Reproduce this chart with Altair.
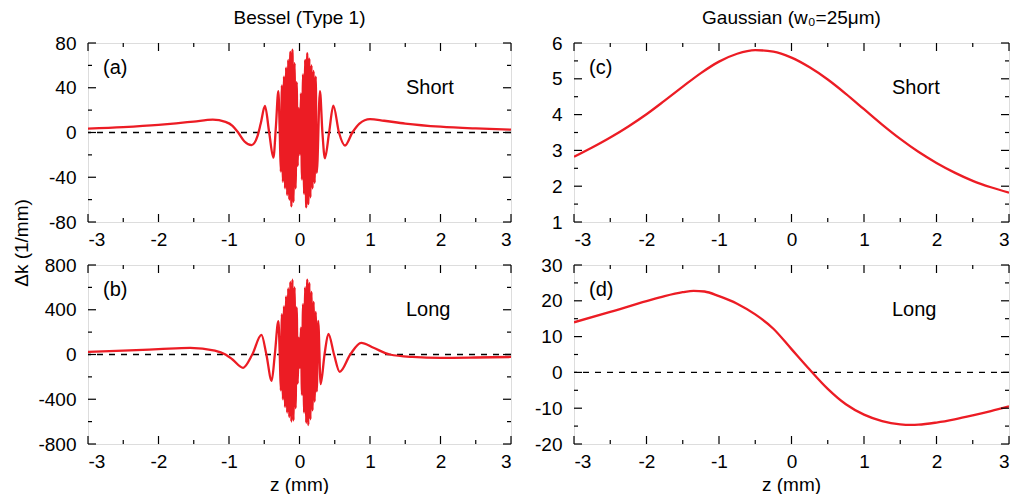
import altair as alt
import pandas as pd

# ---------------- data ----------------
# (a) Bessel, Short
a_z = [-3.0, -2.5, -2.0, -1.75, -1.5, -1.23, -1.05, -0.95, -0.87, -0.78, -0.68, -0.6, -0.55,
       -0.49, -0.43, -0.37, -0.335, -0.30, -0.28,
       -0.265, -0.25, -0.235, -0.22, -0.205, -0.19, -0.175, -0.16, -0.145, -0.13, -0.115, -0.10,
       -0.085, -0.07, -0.055, -0.04, -0.025, -0.01, 0.005, 0.02, 0.035, 0.05, 0.065, 0.08, 0.095,
       0.11, 0.125, 0.14, 0.155, 0.17, 0.185, 0.20, 0.215, 0.23, 0.245,
       0.29, 0.325, 0.36, 0.42, 0.48, 0.56, 0.645, 0.75, 0.85, 1.0, 1.2, 1.5, 2.0, 2.5, 3.0]
a_dk = [3.5, 4.8, 6.8, 8.2, 9.8, 11.5, 9.5, 6.0, 0.0, -8.0, -11.2, -4.0, 8.0,
        23.7, 0.0, -22.5, 5.0, 37.0, 0.0,
        -35, 42, -44, 50, -50, 58, -56, 65, -60, 72, -66, 74,
        -62, 62, -50, 45, -30, 22, -20, 35, -42, 52, -55, 65, -67,
        71, -64, 66, -58, 60, -50, 55, -45, 50, -36,
        37, 0.0, -23, 0.0, 24, 0.0, -11.6, 0.0, 8.0, 12.0, 10.5, 8.0, 5.2, 3.6, 2.5]

# (b) Bessel, Long
b_z = [-3.0, -2.5, -2.0, -1.55, -1.2, -1.05, -0.95, -0.80, -0.67, -0.54, -0.47, -0.395, -0.35,
       -0.30, -0.28,
       -0.265, -0.25, -0.235, -0.22, -0.205, -0.19, -0.175, -0.16, -0.145, -0.13, -0.115, -0.10,
       -0.085, -0.07, -0.055, -0.04, -0.025, -0.01, 0.005, 0.02, 0.035, 0.05, 0.065, 0.08, 0.095,
       0.11, 0.125, 0.14, 0.155, 0.17, 0.185, 0.20, 0.215, 0.23, 0.245,
       0.265, 0.30, 0.355, 0.41, 0.49, 0.57, 0.72, 0.875, 1.05, 1.28, 1.6, 2.0, 2.5, 3.0]
b_dk = [24, 35, 48, 60, 35, 0, -45, -119, 0, 175, 0, -235, 0,
        298, 0,
        -320, 360, -400, 430, -470, 520, -520, 590, -560, 650, -600, 670,
        -590, 600, -480, 420, -260, 150, -120, 240, -360, 450, -520, 600, -610,
        670, -630, 640, -580, 560, -500, 470, -420, 380, -330,
        300, -265, 0, 185, 0, -155, 0, 104, 60, 0, -22, -30, -27, -22]

# (c) Gaussian, Short
c_z = [-3.0, -2.75, -2.5, -2.25, -2.0, -1.75, -1.5, -1.25, -1.0, -0.75, -0.5, -0.25, 0.0,
       0.25, 0.5, 0.75, 1.0, 1.25, 1.5, 1.75, 2.0, 2.25, 2.5, 2.75, 3.0]
c_dk = [2.82, 3.08, 3.36, 3.67, 4.01, 4.39, 4.78, 5.16, 5.48, 5.70, 5.80, 5.76, 5.59,
        5.32, 4.98, 4.58, 4.15, 3.72, 3.32, 2.96, 2.65, 2.38, 2.15, 1.97, 1.82]

# (d) Gaussian, Long
d_z = [-3.0, -2.5, -2.0, -1.75, -1.5, -1.35, -1.2, -1.0, -0.75, -0.5, -0.25, 0.0, 0.25,
       0.5, 0.75, 1.0, 1.25, 1.5, 1.65, 1.75, 2.0, 2.25, 2.5, 2.75, 3.0]
d_dk = [14.0, 16.9, 19.9, 21.3, 22.4, 22.8, 22.6, 21.3, 19.2, 16.2, 12.2, 6.5, 0.8,
        -4.6, -8.9, -11.8, -13.6, -14.5, -14.65, -14.6, -14.0, -13.1, -12.0, -10.8, -9.5]

# ticks
x_major = [-3, -2, -1, 0, 1, 2, 3]
x_minor = [-2.5, -1.5, -0.5, 0.5, 1.5, 2.5]
a_major = [-80, -40, 0, 40, 80]
a_minor = [-60, -20, 20, 60]
b_major = [-800, -400, 0, 400, 800]
b_minor = [-600, -200, 200, 600]
c_major = [1, 2, 3, 4, 5, 6]
c_minor = [1.5, 2.5, 3.5, 4.5, 5.5]
d_major = [-20, -10, 0, 10, 20, 30]
d_minor = [-15, -5, 5, 15, 25]

col_titles = ["Bessel (Type 1)", "Gaussian (w\u2080=25\u03bcm)"]
y_title = "\u0394k (1/mm)"
x_title = "z (mm)"

RED = "#EC1C24"
FONT = "Liberation Sans"
FS = 19
LFS = 20
WL, WR, H = 423, 435, 179
MAJ, MIN = 8, 4


def text_layer(txt, x, y, size=LFS, align="left", angle=0):
    df = pd.DataFrame({"t": [txt]})
    kw = dict(font=FONT, fontSize=size, align=align, baseline="middle", color="black")
    if angle:
        kw["angle"] = angle
    return alt.Chart(df).mark_text(**kw).encode(
        text="t:N", x=alt.value(x), y=alt.value(y))


def panel(z, dk, ymaj, ymin, ydom, W, tag, name, zero=True, extras=()):
    xscale = alt.Scale(domain=[-3, 3], nice=False, zero=False)
    yscale = alt.Scale(domain=ydom, nice=False, zero=False)
    xaxis = alt.Axis(values=x_major, labelExpr="'' + datum.value", labelPadding=8,
                     labelFont=FONT, labelFontSize=FS, ticks=False, domain=False, grid=False)
    yaxis = alt.Axis(values=ymaj, labelExpr="'' + datum.value", labelPadding=12,
                     labelFont=FONT, labelFontSize=FS, ticks=False, domain=False, grid=False)

    def X(f):
        return alt.X(f, scale=xscale, axis=xaxis, title=None)

    def Y(f):
        return alt.Y(f, scale=yscale, axis=yaxis, title=None)

    layers = []
    df = pd.DataFrame({"z": z, "dk": dk})
    if zero:
        layers.append(alt.Chart(pd.DataFrame({"v": [0]})).mark_rule(
            color="black", strokeWidth=1.3, strokeDash=[6, 6]).encode(y=Y("v:Q")))
    layers.append(alt.Chart(df).mark_line(
        color=RED, strokeWidth=2.3, interpolate="monotone", clip=True,
        strokeJoin="round").encode(x=X("z:Q"), y=Y("dk:Q")))
    rule = dict(color="black", strokeWidth=1.2)
    for vals, L in ((x_major, MAJ), (x_minor, MIN)):
        d = pd.DataFrame({"v": vals})
        layers.append(alt.Chart(d).mark_rule(**rule).encode(
            x=X("v:Q"), y=alt.value(H), y2=alt.value(H - L)))
        layers.append(alt.Chart(d).mark_rule(**rule).encode(
            x=X("v:Q"), y=alt.value(0), y2=alt.value(L)))
    for vals, L in ((ymaj, MAJ), (ymin, MIN)):
        d = pd.DataFrame({"v": vals})
        layers.append(alt.Chart(d).mark_rule(**rule).encode(
            y=Y("v:Q"), x=alt.value(0), x2=alt.value(L)))
        layers.append(alt.Chart(d).mark_rule(**rule).encode(
            y=Y("v:Q"), x=alt.value(W), x2=alt.value(W - L)))
    layers.append(text_layer(tag, 15, 25))
    layers.append(text_layer(name, 318, 45))
    layers.extend(extras)
    return alt.layer(*layers).properties(width=W, height=H)


pa = panel(a_z, a_dk, a_major, a_minor, [-80, 80], WL, "(a)", "Short",
           extras=[text_layer(col_titles[0], WL / 2, -25, size=FS, align="center"),
                   text_layer(y_title, -66, H + 21, size=FS, align="center", angle=270)])
pb = panel(b_z, b_dk, b_major, b_minor, [-800, 800], WL, "(b)", "Long",
           extras=[text_layer(x_title, WL / 2, H + 41, size=FS, align="center")])
pc = panel(c_z, c_dk, c_major, c_minor, [1, 6], WR, "(c)", "Short", zero=False,
           extras=[text_layer(col_titles[1], WR / 2, -25, size=FS, align="center")])
pd_ = panel(d_z, d_dk, d_major, d_minor, [-20, 30], WR, "(d)", "Long",
            extras=[text_layer(x_title, WR / 2, H + 41, size=FS, align="center")])

chart = alt.concat(pa, pc, pb, pd_, columns=2,
                   spacing={"row": 43, "column": 63}, bounds="flush").properties(
    padding={"left": 12, "top": 8, "right": 0, "bottom": 0}
).configure_view(stroke="black", strokeWidth=1.5).configure(background="white")

chart.save("out.html", embed_options={"renderer": "svg", "actions": False})
